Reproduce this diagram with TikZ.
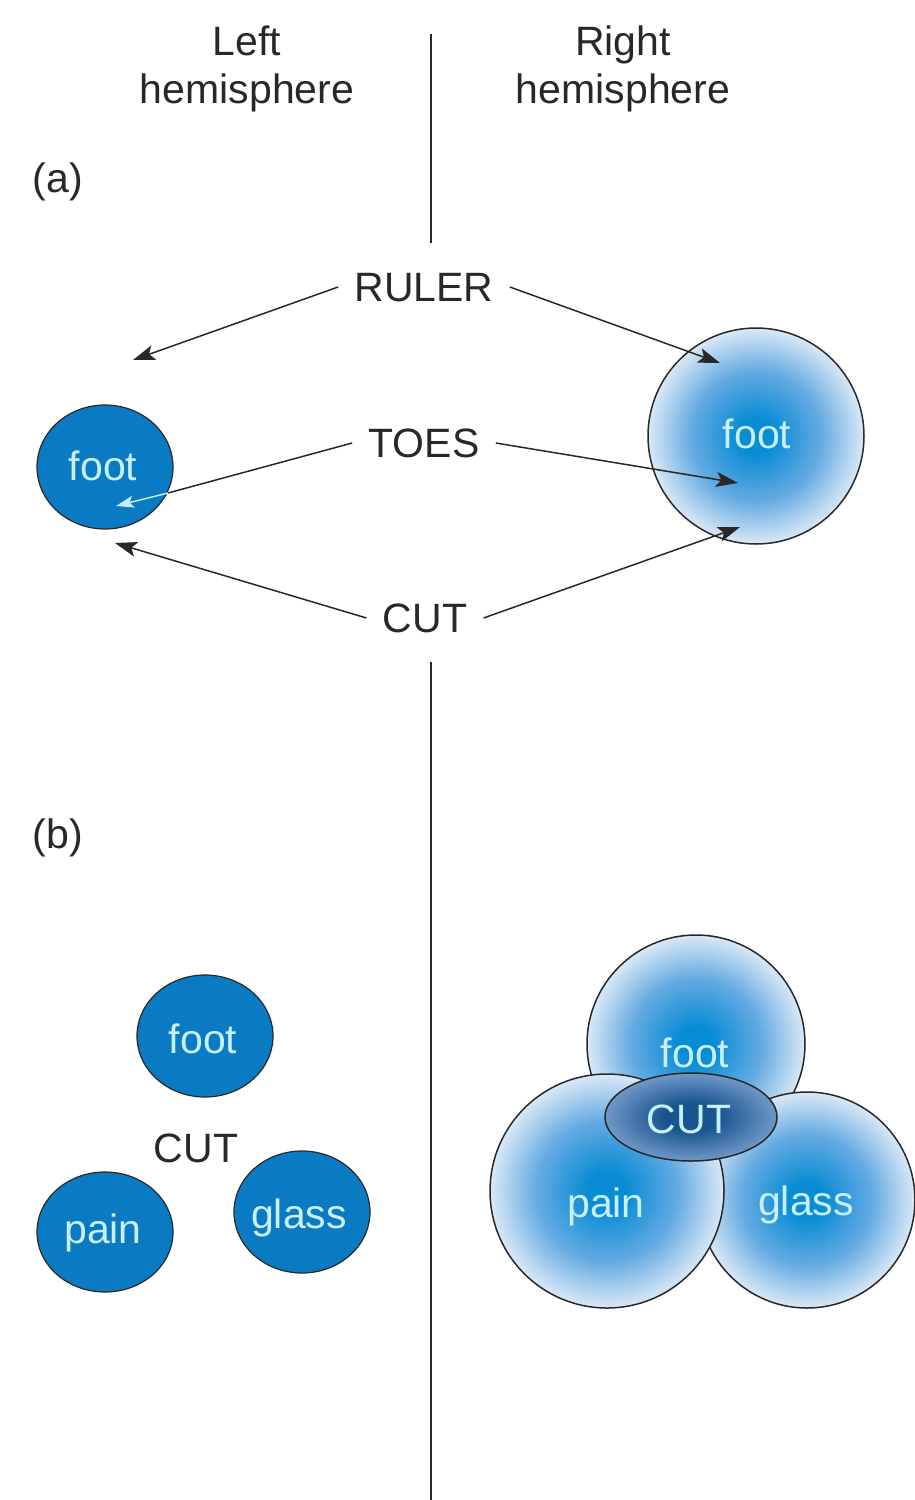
\documentclass[tikz,border=0pt]{standalone}
\usepackage{fontspec}
\setmainfont{Liberation Sans}
\usetikzlibrary{arrows.meta,shapes.geometric}
\definecolor{darkblue}{RGB}{10,123,194}
\definecolor{foottxt}{RGB}{200,240,252}
\definecolor{bctr}{RGB}{8,140,212}
\definecolor{bmid}{RGB}{100,170,226}
\definecolor{bedge}{RGB}{218,232,246}
\definecolor{cctr}{RGB}{24,84,142}
\definecolor{cedge}{RGB}{112,152,200}
\definecolor{lin}{RGB}{40,40,40}
\pgfdeclareradialshading{ballshade}{\pgfpoint{0bp}{0bp}}{color(0bp)=(bctr); color(4bp)=(bctr); color(15bp)=(bmid); color(25bp)=(bedge); color(50bp)=(bedge)}
\pgfdeclareradialshading{cutshade}{\pgfpoint{0bp}{0bp}}{color(0bp)=(cctr); color(8bp)=(cctr); color(25bp)=(cedge); color(50bp)=(cedge)}
\begin{document}
\begin{tikzpicture}[x=0.5pt,y=-0.5pt,
  every node/.style={font=\fontsize{20.5}{24}\selectfont},
  lbl/.style={text=lin, inner xsep=8pt, inner ysep=2pt, text depth=0pt},
  hdr/.style={text=lin, align=center},
  wtxt/.style={text=foottxt, inner sep=0pt, anchor=base},
  dblob/.style={ellipse, draw=lin, line width=0.6pt, fill=darkblue, inner sep=0pt},
  ball/.style={circle, draw=lin, line width=0.75pt, shading=ballshade, inner sep=0pt, minimum size=108pt},
  arr/.style={draw=lin, line width=0.75pt, -{Stealth[length=11pt,width=7.5pt,inset=2.5pt]}},
  warr/.style={draw=foottxt, line width=0.7pt, -{Stealth[length=9pt,width=6pt,inset=2pt]}},
  divider/.style={draw=lin, line width=0.7pt},
]
\useasboundingbox (0,0) rectangle (915,1500);

% divider
\coordinate (d1) at (431,34);
\coordinate (d2) at (431,243);
\coordinate (d3) at (431,662);
\coordinate (d4) at (431,1500);
\draw[divider] (d1) -- (d2);
\draw[divider] (d3) -- (d4);

% headers
\node[hdr] (lh) at (247,69) {Left\\hemisphere};
\node[hdr] (rh) at (623,69) {Right\\hemisphere};
\node[text=lin] (pa) at (58,182) {(a)};
\node[text=lin] (pb) at (58,838) {(b)};

% (a) shapes
\node[dblob, minimum width=68pt, minimum height=62pt] (lfoot) at (105,467) {};
\node[wtxt] (lfoott) at (103,480) {foot};
\node[ball] (rfoot) at (756,436) {};
\node[wtxt] (rfoott) at (757,448) {foot};

% (a) labels
\node[lbl] (ruler) at (424,287) {RULER};
\node[lbl] (toes) at (424,443) {TOES};
\node[lbl] (cut) at (425,618) {CUT};

\coordinate (rl) at (133,360);
\coordinate (rr) at (720,363);
\coordinate (tl1) at (168,493);
\coordinate (tl2) at (116,506);
\coordinate (tr) at (738,483);
\coordinate (cl) at (115,543);
\coordinate (cr) at (740,527);

\draw[arr] (ruler.west) -- (rl);
\draw[arr] (ruler.east) -- (rr);
\draw[draw=lin, line width=0.75pt] (toes.west) -- (tl1);
\draw[warr] (tl1) -- (tl2);
\draw[arr] (toes.east) -- (tr);
\draw[arr] (cut.west) -- (cl);
\draw[arr] (cut.east) -- (cr);

% (b) left
\node[dblob, minimum width=68pt, minimum height=61pt] (bfoot) at (205,1036) {};
\node[wtxt] (bfoott) at (203,1053) {foot};
\node[dblob, minimum width=68pt, minimum height=60pt] (bpain) at (105,1232) {};
\node[wtxt] (bpaint) at (103,1243) {pain};
\node[dblob, minimum width=68pt, minimum height=61pt] (bglass) at (302,1212) {};
\node[wtxt] (bglasst) at (299,1228) {glass};
\node[text=lin, anchor=base, inner sep=0pt] (bcut) at (196,1162) {CUT};

% (b) right
\node[ball, minimum size=109pt] (cfoot) at (696,1044) {};
\node[ball, minimum size=108pt] (cglass) at (807,1200) {};
\node[ball, minimum size=117pt] (cpain) at (607,1191) {};
\node[ellipse, draw=lin, line width=0.75pt, shading=cutshade, inner sep=0pt, minimum width=86pt, minimum height=44pt] (ccut) at (691,1117) {};
\node[wtxt] (cfoott) at (695,1067) {foot};
\node[wtxt] (ccutt) at (689,1133) {CUT};
\node[wtxt] (cpaint) at (606,1217) {pain};
\node[wtxt] (cglasst) at (806,1215) {glass};
\end{tikzpicture}
\end{document}
